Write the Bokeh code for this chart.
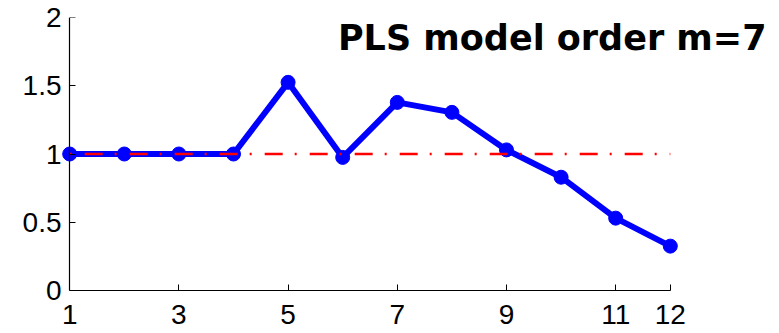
from bokeh.plotting import figure
from bokeh.models import Range1d, FixedTicker, Label, ColumnDataSource, LinearAxis
from bokeh.embed import file_html
from bokeh.resources import INLINE

order = [1, 2, 3, 4, 5, 6, 7, 8, 9, 10, 11, 12]
ratio = [1.0, 1.0, 1.0, 1.0, 1.525, 0.975, 1.378, 1.305, 1.03, 0.83, 0.53, 0.325]
reference = [1.0] * 12
x_ticks = [1, 3, 5, 7, 9, 11, 12]
y_ticks = [0, 0.5, 1, 1.5, 2]
y_tick_labels = {0: "0", 0.5: "0.5", 1: "1", 1.5: "1.5", 2: "2"}
title_text = "PLS model order m=7"

FONT = "Liberation Sans"

p = figure(width=779, height=333, output_backend="svg", toolbar_location=None,
           x_range=Range1d(0.85, 14.0), y_range=Range1d(0, 2),
           min_border_left=61, min_border_right=0,
           min_border_top=17, min_border_bottom=43)
p.outline_line_color = None
p.grid.visible = False
p.background_fill_color = "white"
p.border_fill_color = "white"

src = ColumnDataSource(dict(x=order, y=ratio, r=reference))

p.line("x", "y", source=src, line_color="#0000ff", line_width=6)
p.scatter("x", "y", source=src, size=14, fill_color="#0000ff", line_color="#0000ff")
p.line("x", "r", source=src, line_color="red", line_width=2.5,
       line_dash="18 12 2 13", line_dash_offset=30)

# x axis (line + ticks + labels), limited to the data span
xa = p.xaxis[0]
xa.ticker = FixedTicker(ticks=x_ticks)
xa.bounds = (1, 12)
xa.axis_line_color = "black"
xa.axis_line_width = 1.2
xa.major_tick_in = 6
xa.major_tick_out = 0
xa.minor_tick_in = 0
xa.minor_tick_out = 0
xa.major_tick_line_color = "black"
xa.major_label_text_font = FONT
xa.major_label_text_font_size = "28px"
xa.major_label_text_color = "black"
xa.major_label_overrides = {t: str(t) for t in x_ticks}
xa.major_label_standoff = 14

# y axis labels only (left panel, next to the frame)
ya = p.yaxis[0]
ya.ticker = FixedTicker(ticks=y_ticks)
ya.axis_line_color = None
ya.major_tick_line_color = None
ya.minor_tick_line_color = None
ya.major_tick_in = 0
ya.major_tick_out = 0
ya.minor_tick_in = 0
ya.minor_tick_out = 0
ya.major_label_text_font = FONT
ya.major_label_text_font_size = "28px"
ya.major_label_text_color = "black"
ya.major_label_overrides = y_tick_labels
ya.major_label_standoff = 0

# y axis line + ticks placed at x = 1
yline = LinearAxis(ticker=FixedTicker(ticks=y_ticks), fixed_location=1,
                   axis_line_color="black", axis_line_width=1.2,
                   major_tick_in=6, major_tick_out=0, minor_tick_in=0, minor_tick_out=0,
                   major_tick_line_color="black",
                   major_label_text_alpha=0, major_label_text_font_size="1px",
                   major_label_standoff=0)
p.add_layout(yline, "left")

p.add_layout(Label(x=705, y=252.3, x_units="screen", y_units="screen",
                   text=title_text, text_font="DejaVu Sans", text_font_size="35px",
                   text_font_style="bold", text_align="right", text_baseline="alphabetic",
                   text_color="black"))

open("out.html", "w").write(file_html(p, INLINE))
